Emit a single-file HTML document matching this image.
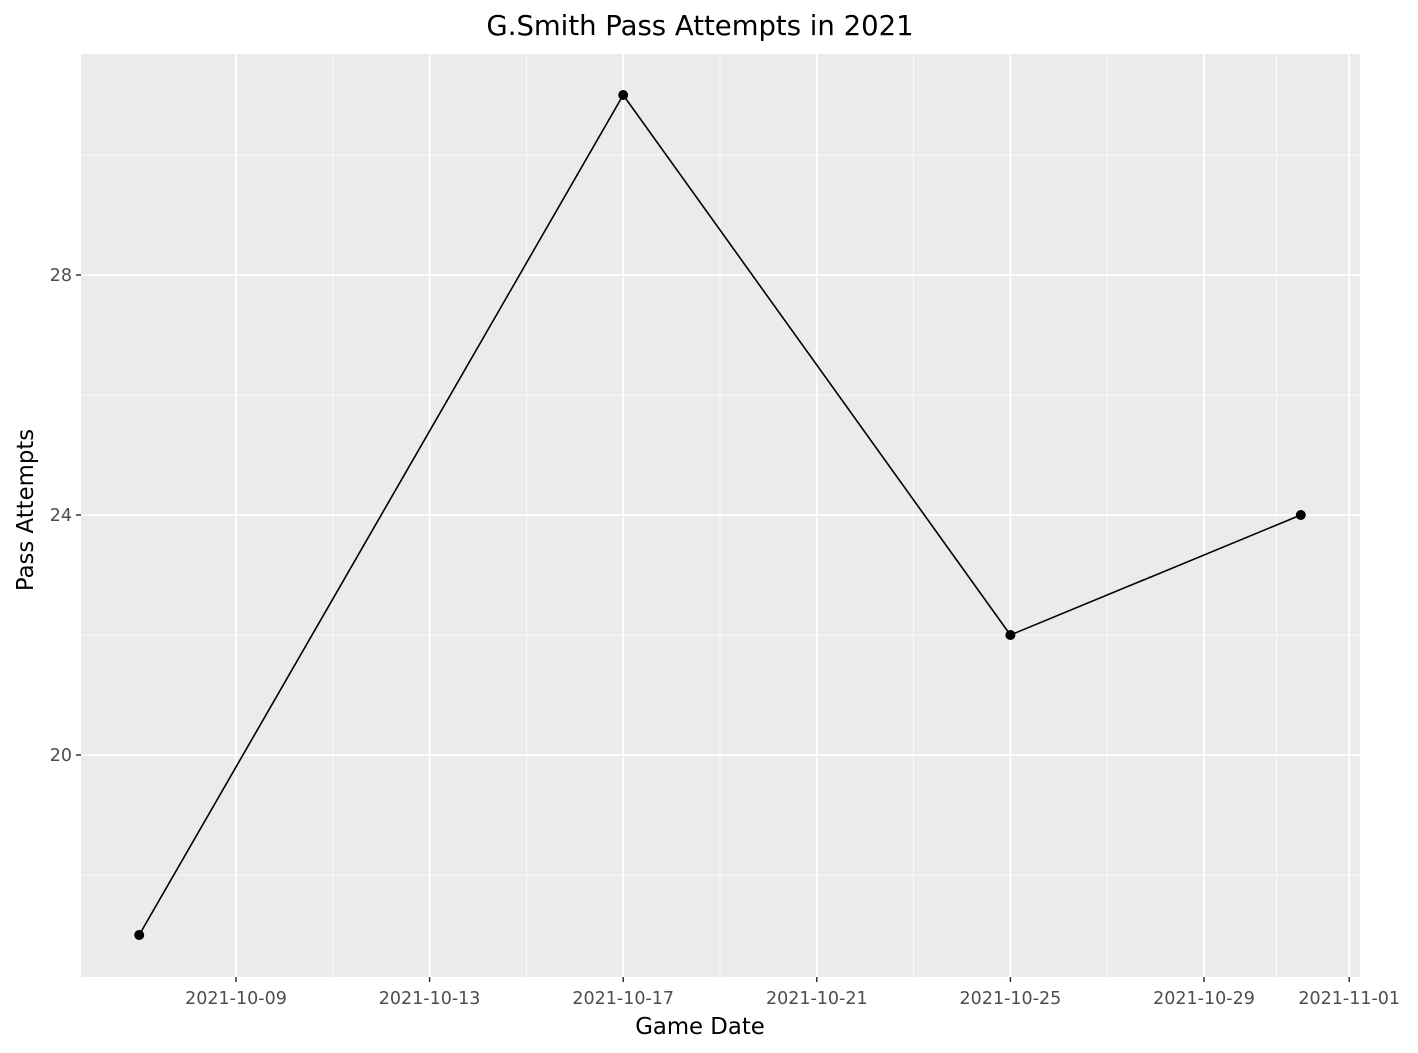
<!DOCTYPE html>
<html><head><meta charset="utf-8"><style>
body{margin:0;background:#fff;}
svg{display:block;font-family:"DejaVu Sans","Liberation Sans",sans-serif;}
</style></head><body>
<svg id="chart" width="1418" height="1053">
<rect x="81" y="54" width="1279" height="923" fill="#ebebeb"/>
<g id="grid"></g><g id="axes"></g><g id="series"></g>
<text x="700" y="35" text-anchor="middle" font-size="27.5" fill="#000">G.Smith Pass Attempts in 2021</text>
<text x="700" y="1034" text-anchor="middle" font-size="22.8" fill="#000">Game Date</text>
<text transform="translate(33,510) rotate(-90)" text-anchor="middle" font-size="22.8" fill="#000">Pass Attempts</text>
</svg>
<script>
const dates=["2021-10-07","2021-10-17","2021-10-25","2021-10-31"];
const attempts=[17,31,22,24];
const xTicks=["2021-10-09","2021-10-13","2021-10-17","2021-10-21","2021-10-25","2021-10-29","2021-11-01"];
const xMinor=["2021-10-11","2021-10-15","2021-10-19","2021-10-23","2021-10-27","2021-10-30T12:00"];
const yTicks=[20,24,28];
const yMinor=[18,22,26,30];
const NS="http://www.w3.org/2000/svg";
const day=86400000;
const x0=Date.parse("2021-10-09T00:00Z");
function xs(d){const t=Date.parse(d.length<=10?d+"T00:00Z":d+"Z");return 236+(t-x0)/day*48.4;}
function ys(v){return 515-(v-24)*60;}
function el(tag,attrs,parent){const e=document.createElementNS(NS,tag);for(const k in attrs)e.setAttribute(k,attrs[k]);parent.appendChild(e);return e;}
const grid=document.getElementById('grid'),axes=document.getElementById('axes'),series=document.getElementById('series');
yMinor.forEach(v=>{const l=el('line',{x1:81,x2:1360,y1:ys(v),y2:ys(v),stroke:'#fff','stroke-width':0.8},grid);

});
xMinor.forEach(d=>{const l=el('line',{x1:xs(d),x2:xs(d),y1:54,y2:977,stroke:'#fff','stroke-width':0.8},grid);

});
yTicks.forEach(v=>{const y=ys(v);
const l=el('line',{x1:81,x2:1360,y1:y,y2:y,stroke:'#fff','stroke-width':1.8},grid);


el('line',{x1:76,x2:81,y1:y,y2:y,stroke:'#333','stroke-width':1.5},axes);
const t=el('text',{x:72,y:y+6,'text-anchor':'end','font-size':17.5,fill:'#4d4d4d'},axes);t.textContent=v;

});
xTicks.forEach(d=>{const x=xs(d);
const l=el('line',{x1:x,x2:x,y1:54,y2:977,stroke:'#fff','stroke-width':1.8},grid);


el('line',{x1:x,x2:x,y1:977,y2:982,stroke:'#333','stroke-width':1.5},axes);
const t=el('text',{x:x,y:1004,'text-anchor':'middle','font-size':17.5,fill:'#4d4d4d'},axes);t.textContent=d;

});
const pts=dates.map((d,i)=>xs(d)+","+ys(attempts[i])).join(" ");
const line=el('polyline',{points:pts,fill:'none',stroke:'#000','stroke-width':1.6},series);


dates.forEach((d,i)=>{const c=el('circle',{cx:xs(d),cy:ys(attempts[i]),r:5,fill:'#000'},series);

});
</script>
</body></html>
